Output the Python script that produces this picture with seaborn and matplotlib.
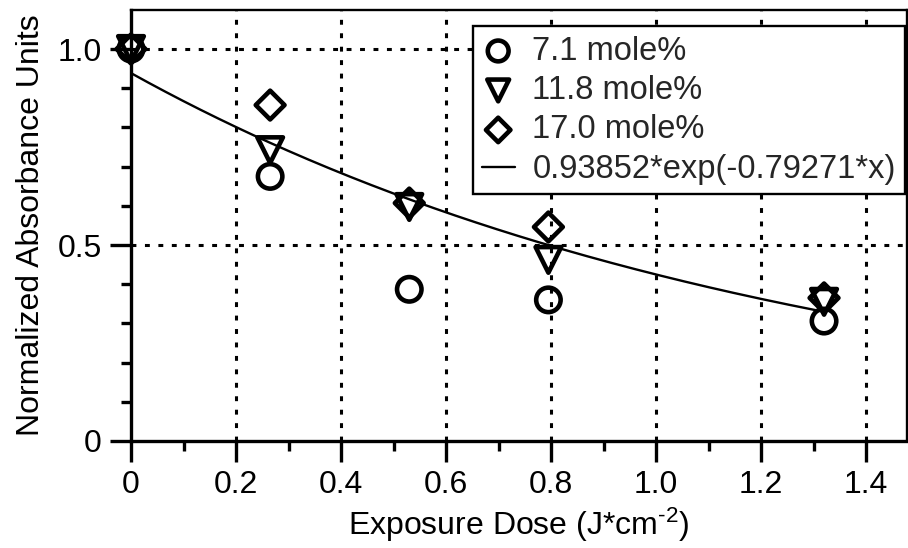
import numpy as np
import pandas as pd
import matplotlib
matplotlib.use("Agg")
import matplotlib.pyplot as plt
import seaborn as sns

# ---- data ----
dose = [0.0, 0.265, 0.53, 0.795, 1.32]
mole_7_1 = [1.0, 0.675, 0.387, 0.360, 0.306]
mole_11_8 = [1.0, 0.742, 0.597, 0.462, 0.355]
mole_17_0 = [1.0, 0.857, 0.607, 0.546, 0.365]
series_labels = ["7.1 mole%", "11.8 mole%", "17.0 mole%"]
fit_amp = 0.93852
fit_rate = -0.79271
fit_label = "0.93852*exp(-0.79271*x)"
x_ticks = [0, 0.2, 0.4, 0.6, 0.8, 1.0, 1.2, 1.4]
x_ticklabels = ["0", "0.2", "0.4", "0.6", "0.8", "1.0", "1.2", "1.4"]
y_ticks = [0, 0.5, 1.0]
y_ticklabels = ["0", "0.5", "1.0"]

sns.set_theme(style="ticks")
plt.rcParams["font.family"] = ["Liberation Sans", "DejaVu Sans"]
plt.rcParams["mathtext.fontset"] = "custom"
plt.rcParams["mathtext.rm"] = "Liberation Sans"
plt.rcParams["mathtext.it"] = "Liberation Sans"
plt.rcParams["axes.unicode_minus"] = False

fig = plt.figure(figsize=(9.08, 5.48), dpi=100)
ax = fig.add_axes([131 / 908, 107 / 548, 776 / 908, 431 / 548])

fs = 23

# fit curve
fit_x = np.linspace(0, dose[-1], 200)
fit_df = pd.DataFrame({"x": fit_x, "y": fit_amp * np.exp(fit_rate * fit_x)})

markers = ["o", "v", "D"]
sizes = [310, 340, 215]
for vals, lab, mk, s in zip([mole_7_1, mole_11_8, mole_17_0], series_labels, markers, sizes):
    df = pd.DataFrame({"x": dose, "y": vals})
    sns.scatterplot(data=df, x="x", y="y", ax=ax, marker=mk, s=s,
                    facecolor="none", edgecolor="black", linewidth=3.3,
                    label=lab, clip_on=False, zorder=4)

sns.lineplot(data=fit_df, x="x", y="y", ax=ax, color="black", lw=1.7,
             label=fit_label, zorder=3)

ax.set_xlim(0, 1.478)
ax.set_ylim(0, 1.0995)

ax.set_xticks(x_ticks)
ax.set_xticklabels(x_ticklabels)
ax.set_yticks(y_ticks)
ax.set_yticklabels(y_ticklabels)
ax.set_xticks(np.arange(0.1, 1.5, 0.2), minor=True)
ax.set_yticks([v for v in np.arange(0.1, 1.1, 0.1) if abs(v - 0.5) > 1e-6 and abs(v - 1.0) > 1e-6], minor=True)

ax.tick_params(axis="both", which="major", direction="out", length=15, width=2.4,
               labelsize=fs, color="black", labelcolor="black", pad=6)
ax.tick_params(axis="both", which="minor", direction="out", length=7.5, width=2.4,
               color="black")

for side in ["left", "bottom"]:
    ax.spines[side].set_linewidth(2.4)
    ax.spines[side].set_color("black")
for side in ["top", "right"]:
    ax.spines[side].set_visible(True)
    ax.spines[side].set_linewidth(1.7)
    ax.spines[side].set_color("black")

# dotted grid
for xv in x_ticks[1:]:
    ax.axvline(xv, color="black", lw=2.2, linestyle=(0, (1.6, 2.8)), zorder=1)
for yv in y_ticks[1:]:
    ax.axhline(yv, color="black", lw=2.2, linestyle=(0, (1.6, 2.8)), zorder=1)

ax.set_xlabel("Exposure Dose (J*cm$^{\\mathregular{\u2010}\\mathregular{2}}$)", fontsize=fs,
              color="black", labelpad=4)
ax.set_ylabel("Normalized Absorbance Units", fontsize=fs, color="black", labelpad=8)

leg = ax.legend(loc="upper right", bbox_to_anchor=(0.9974, 0.962), borderaxespad=0,
                fontsize=23.5, frameon=True, fancybox=False,
                edgecolor="black", framealpha=1,
                handlelength=1.0, handletextpad=0.55, labelspacing=0.26,
                borderpad=0.28, markerscale=0.85)
leg.get_frame().set_linewidth(1.7)

fig.savefig("out.png", dpi=100, facecolor="white")
